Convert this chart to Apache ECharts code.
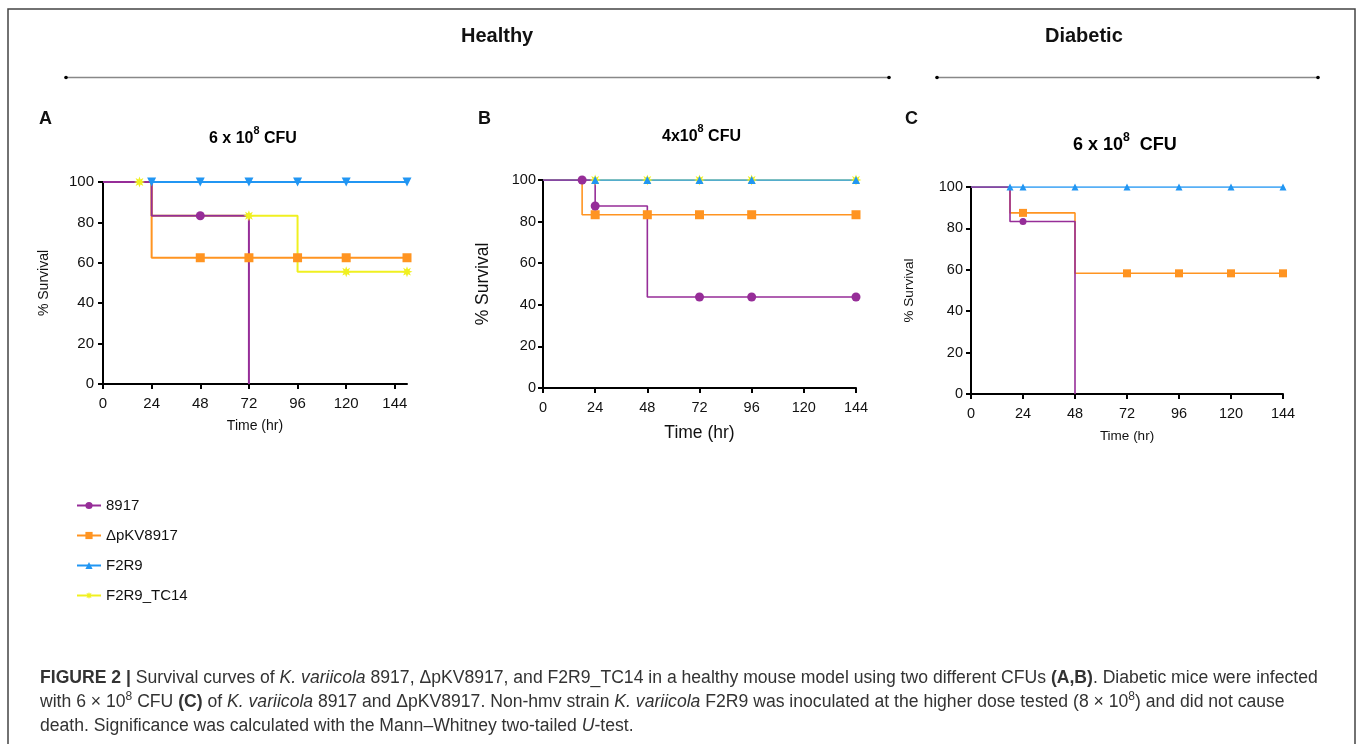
<!DOCTYPE html>
<html>
<head>
<meta charset="utf-8">
<script src="https://cdn.jsdelivr.net/npm/echarts@6/dist/echarts.min.js"></script>
<style>
html,body{margin:0;padding:0;background:#fff;}
#chart{width:1357px;height:744px;}
</style>
</head>
<body>
<div id="chart"></div>
<script>
// ---------- DATA ----------
// each point: [time (hr), % survival, censor mark shown (1) or not (0)]
var strainNames = ['8917', '\u0394pKV8917', 'F2R9', 'F2R9_TC14'];
var xTicks = [0, 24, 48, 72, 96, 120, 144];
var panelTitles = ['6 x 10', '4x10', '6 x 10'];

var A_8917  = [[0,100,0],[24,83.3,0],[48,83.3,1],[72,0,0]];
var A_dpKV  = [[0,100,0],[24,62.5,0],[48,62.5,1],[72,62.5,1],[96,62.5,1],[120,62.5,1],[150,62.5,1]];
var A_F2R9  = [[0,100,0],[24,100,1],[48,100,1],[72,100,1],[96,100,1],[120,100,1],[150,100,1]];
var A_TC14  = [[0,100,0],[18,100,1],[24,83.3,0],[72,83.3,1],[96,55.6,0],[120,55.6,1],[150,55.6,1]];

var B_8917  = [[0,100,0],[18,100,1],[24,87.5,1],[48,43.75,0],[72,43.75,1],[96,43.75,1],[144,43.75,1]];
var B_dpKV  = [[0,100,0],[18,83.3,0],[24,83.3,1],[48,83.3,1],[72,83.3,1],[96,83.3,1],[144,83.3,1]];
var B_F2R9  = [[0,100,0],[24,100,1],[48,100,1],[72,100,1],[96,100,1],[144,100,1]];
var B_TC14  = [[0,100,0],[24,100,1],[48,100,1],[72,100,1],[96,100,1],[144,100,1]];

var C_8917  = [[0,100,0],[18,83.3,0],[24,83.3,1],[48,0,0]];
var C_dpKV  = [[0,100,0],[18,87.5,0],[24,87.5,1],[48,58.3,0],[72,58.3,1],[96,58.3,1],[120,58.3,1],[144,58.3,1]];
var C_F2R9  = [[0,100,0],[18,100,1],[24,100,1],[48,100,1],[72,100,1],[96,100,1],[120,100,1],[144,100,1]];

// ---------- STYLE ----------
var FONT = 'Liberation Sans, Arial, Helvetica, sans-serif';
var colors = {'8917':'#962d98', '\u0394pKV8917':'#ff9421', 'F2R9':'#2196f3', 'F2R9_TC14':'#f0f020'};

function starPath(){
  var pts = [], n = 8;
  for (var k = 0; k < n*2; k++) {
    var r = (k % 2 === 0) ? 1 : 0.5;
    var a = Math.PI * k / n - Math.PI/2;
    pts.push((50 + 50*r*Math.cos(a)).toFixed(1) + ' ' + (50 + 50*r*Math.sin(a)).toFixed(1));
  }
  return 'path://M' + pts.join(' L') + ' Z';
}
var STAR = starPath();

var symbols = {'8917':'circle', '\u0394pKV8917':'rect', 'F2R9':'triangle', 'F2R9_TC14':STAR};

function mk(name, arr, idx, opts) {
  opts = opts || {};
  var sym = symbols[name];
  return {
    type: 'line', name: name, xAxisIndex: idx, yAxisIndex: idx,
    step: 'end', symbol: sym, symbolSize: opts.size || 8,
    symbolRotate: opts.rotate || 0,
    showSymbol: true, animation: false,
    lineStyle: {color: colors[name], width: opts.lw || 2},
    itemStyle: {color: colors[name], borderWidth: 0},
    emphasis: {disabled: true},
    data: arr.map(function(p){
      return p[2] ? {value:[p[0],p[1]]} : {value:[p[0],p[1]], symbol:'none'};
    })
  };
}

var grids = [
  {left:103, top:182, width:304, height:202},
  {left:543, top:180, width:313, height:208},
  {left:971, top:187, width:312, height:207}
];
var xMax = [150, 144, 144];
var tickFont = [15, 14.5, 14.5];
var nameFont = [14, 17.5, 13.5];
var xNameGap = [35, 36, 35];
var yNameGap = [52, 51, 55];
var xLabelMargin = [12, 12, 12];
var yLabelMargin = [9, 7, 8];

var xAxes = [], yAxes = [];
for (var i = 0; i < 3; i++) {
  xAxes.push({
    type:'value', gridIndex:i, min:0, max:xMax[i], interval:24,
    name:'Time (hr)', nameLocation:'middle', nameGap:xNameGap[i],
    nameTextStyle:{fontFamily:FONT, fontSize:nameFont[i], color:'#111'},
    axisLine:{show:true, onZero:false, lineStyle:{color:'#000', width:2}},
    axisTick:{show:true, length:5, lineStyle:{color:'#000', width:2}, customValues:xTicks},
    axisLabel:{fontFamily:FONT, fontSize:tickFont[i], color:'#111', margin:xLabelMargin[i], customValues:xTicks},
    splitLine:{show:false}
  });
  yAxes.push({
    type:'value', gridIndex:i, min:0, max:100, interval:20,
    name:'% Survival', nameLocation:'middle', nameGap:yNameGap[i], nameRotate:90,
    nameTextStyle:{fontFamily:FONT, fontSize:nameFont[i], color:'#111'},
    axisLine:{show:true, onZero:false, lineStyle:{color:'#000', width:2}},
    axisTick:{show:true, length:5, lineStyle:{color:'#000', width:2}},
    axisLabel:{fontFamily:FONT, fontSize:tickFont[i], color:'#111', margin:yLabelMargin[i]},
    splitLine:{show:false}
  });
}

var series = [
  // panel B first so the legend takes the upright triangle
  mk('F2R9_TC14', B_TC14, 1, {size:11, lw:1.6}),
  mk('\u0394pKV8917', B_dpKV, 1, {size:9, lw:1.6}),
  mk('F2R9', B_F2R9, 1, {size:8, lw:1.6}),
  mk('8917', B_8917, 1, {size:9, lw:1.6}),

  mk('F2R9_TC14', A_TC14, 0, {size:11}),
  mk('\u0394pKV8917', A_dpKV, 0, {size:9}),
  mk('F2R9', A_F2R9, 0, {size:9, rotate:180}),
  mk('8917', A_8917, 0, {size:9}),

  mk('\u0394pKV8917', C_dpKV, 2, {size:8, lw:1.6}),
  mk('F2R9', C_F2R9, 2, {size:7, lw:1.6}),
  mk('8917', C_8917, 2, {size:7, lw:1.6})
];

function supTitle(x, y, base, tail, size) {
  return {
    type:'text', left:x, top:y, z:10,
    style:{
      text:'{a|' + base + '}{s|8}{a|' + tail + '}',
      rich:{
        a:{fontFamily:FONT, fontWeight:'bold', fontSize:size, color:'#111', lineHeight:22, verticalAlign:'bottom'},
        s:{fontFamily:FONT, fontWeight:'bold', fontSize:size*0.68, color:'#111', lineHeight:22, verticalAlign:'top'}
      }
    }
  };
}

var CAP = 17.6;
var capStyle = {
  b:{fontFamily:FONT, fontWeight:'bold', fontSize:CAP, color:'#111'},
  i:{fontFamily:FONT, fontStyle:'italic', fontSize:CAP, color:'#333'},
  s:{fontFamily:FONT, fontSize:12, color:'#333', verticalAlign:'top', lineHeight:15}
};
function capLine(y, txt) {
  return {
    type:'text', left:40, top:y, z:10,
    style:{text:txt, fontFamily:FONT, fontSize:CAP, fill:'#333', lineHeight:22, rich:capStyle}
  };
}

var graphics = [
  {type:'rect', shape:{x:8, y:9, width:1347, height:760}, style:{fill:'none', stroke:'#444', lineWidth:1.5}, silent:true},
  {type:'text', left:461, top:26, style:{text:'Healthy', fontFamily:FONT, fontWeight:'bold', fontSize:20, fill:'#111'}},
  {type:'text', left:1045, top:26, style:{text:'Diabetic', fontFamily:FONT, fontWeight:'bold', fontSize:20, fill:'#111'}},
  {type:'line', shape:{x1:66, y1:77.5, x2:889, y2:77.5}, style:{stroke:'#888', lineWidth:1.5}},
  {type:'line', shape:{x1:937, y1:77.5, x2:1318, y2:77.5}, style:{stroke:'#888', lineWidth:1.5}},
  {type:'circle', shape:{cx:66, cy:77.5, r:1.8}, style:{fill:'#000'}},
  {type:'circle', shape:{cx:889, cy:77.5, r:1.8}, style:{fill:'#000'}},
  {type:'circle', shape:{cx:937, cy:77.5, r:1.8}, style:{fill:'#000'}},
  {type:'circle', shape:{cx:1318, cy:77.5, r:1.8}, style:{fill:'#000'}},
  {type:'text', left:39, top:110, style:{text:'A', fontFamily:FONT, fontWeight:'bold', fontSize:18, fill:'#111'}},
  {type:'text', left:478, top:110, style:{text:'B', fontFamily:FONT, fontWeight:'bold', fontSize:18, fill:'#111'}},
  {type:'text', left:905, top:110, style:{text:'C', fontFamily:FONT, fontWeight:'bold', fontSize:18, fill:'#111'}},
  supTitle(209, 125, panelTitles[0], ' CFU', 16),
  supTitle(662, 123, panelTitles[1], ' CFU', 16),
  supTitle(1073, 132, panelTitles[2], '  CFU', 18),
  capLine(667, '{b|FIGURE 2 |} Survival curves of {i|K. variicola} 8917, \u0394pKV8917, and F2R9_TC14 in a healthy mouse model using two different CFUs {b|(A,B)}. Diabetic mice were infected'),
  capLine(691, 'with 6 \u00d7 10{s|8} CFU {b|(C)} of {i|K. variicola} 8917 and \u0394pKV8917. Non-hmv strain {i|K. variicola} F2R9 was inoculated at the higher dose tested (8 \u00d7 10{s|8}) and did not cause'),
  capLine(715, 'death. Significance was calculated with the Mann\u2013Whitney two-tailed {i|U}-test.')
];

var chart = echarts.init(document.getElementById('chart'), null, {renderer:'canvas'});
chart.setOption({
  animation:false,
  backgroundColor:'#fff',
  grid:grids,
  xAxis:xAxes,
  yAxis:yAxes,
  legend:{
    data:strainNames, orient:'vertical', left:76, top:498, padding:0,
    itemWidth:24, itemHeight:9, itemGap:15,
    textStyle:{fontFamily:FONT, fontSize:15, color:'#111'},
    selectedMode:false
  },
  tooltip:{show:false},
  series:series,
  graphic:graphics
});
</script>
</body>
</html>
